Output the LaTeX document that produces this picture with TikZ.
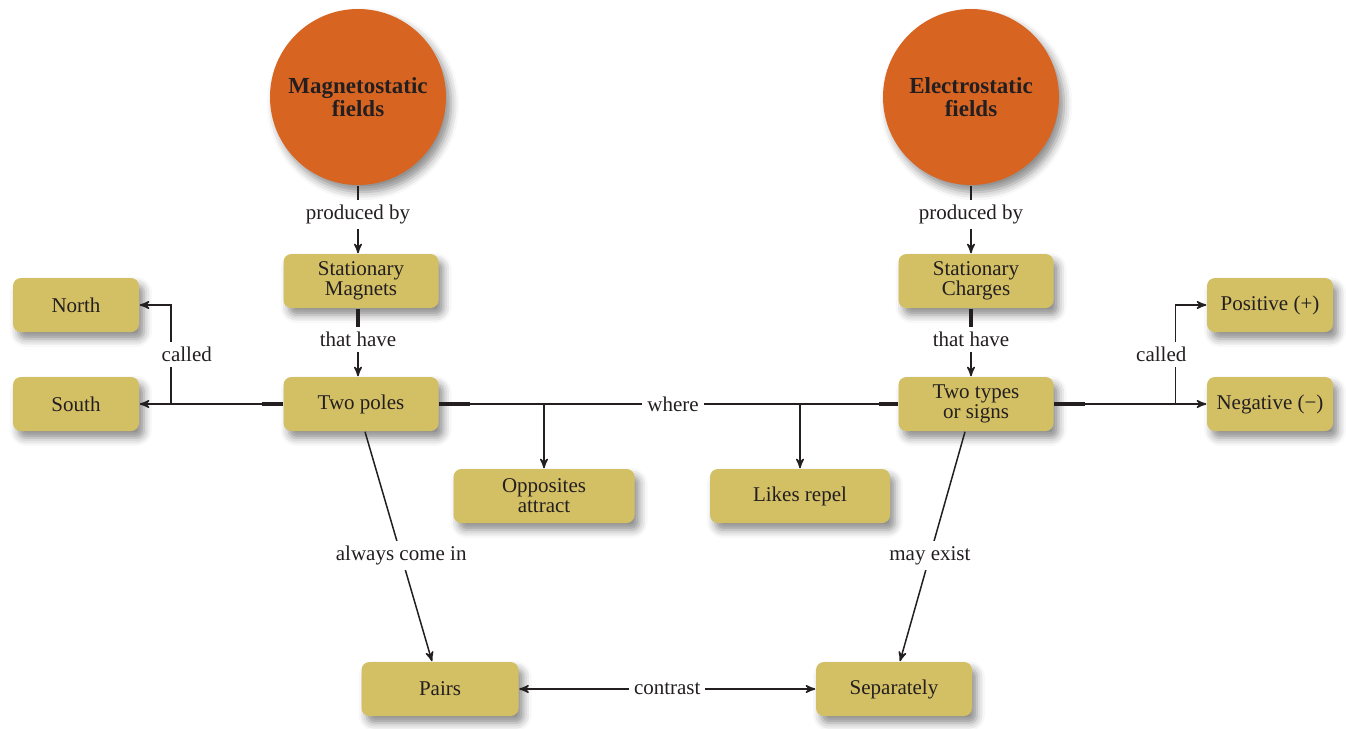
\documentclass[tikz,border=0pt]{standalone}
\usepackage{fontspec}
\setmainfont{Liberation Serif}
\usepackage{color}
\definecolor{myorange}{RGB}{216,100,34}
\definecolor{mygold}{RGB}{211,191,100}
\definecolor{myink}{RGB}{35,31,32}
\usepackage{tikz}
\usetikzlibrary{arrows,shadows.blur,positioning,calc}

\begin{document}
\begin{tikzpicture}[
  x=0.5pt, y=-0.5pt,
  color=myink,
  line width=0.75pt,
  >=stealth',
  field/.style={
    circle,
    fill=myorange,
    minimum size=88pt,
    inner sep=0pt,
    align=center,
    font=\fontsize{11.5}{11.5}\selectfont\bfseries,
    blur shadow={shadow xshift=2.5pt, shadow yshift=-3.5pt, shadow blur radius=4pt, shadow opacity=45}
    },
  concept/.style={
    rectangle,
    rounded corners=4pt,
    fill=mygold,
    minimum width=77.5pt,
    minimum height=27pt,
    inner sep=2pt,
    align=center,
    font=\fontsize{10.5}{10}\selectfont,
    blur shadow={shadow xshift=2.5pt, shadow yshift=-3.5pt, shadow blur radius=4pt, shadow opacity=45}
    },
  linklabel/.style={
    fill=white,
    inner sep=2.5pt,
    font=\fontsize{10.5}{12}\selectfont
    },
  stub/.style={line width=1.6pt}
]
\useasboundingbox (0,0) rectangle (1346,729);

% the two kinds of field
\node [field] (magfield) at (358,97) {Magnetostatic\\fields};
\node [field] (elecfield) at (971,97) {Electrostatic\\fields};

% sources and their poles / charges
\node [concept] (magnets) at (361,281) {Stationary\\Magnets};
\node [concept] (charges) at (976,281) {Stationary\\Charges};
\node [concept] (poles) at (361,404) {Two poles};
\node [concept] (types) at (976,404) {Two types\\or signs};

\node [concept, minimum width=63pt] (north) at (76,305) {North};
\node [concept, minimum width=63pt] (south) at (76,404) {South};
\node [concept, minimum width=63pt] (positive) at (1270,305) {Positive (+)};
\node [concept, minimum width=63pt] (negative) at (1270,404) {Negative (−)};

\node [concept, minimum width=90.5pt] (opposites) at (544,496) {Opposites\\attract};
\node [concept, minimum width=90pt] (likes) at (800,496) {Likes repel};

\node [concept, minimum width=78.5pt] (pairs) at (440,689) {Pairs};
\node [concept, minimum width=78pt] (separately) at (894,689) {Separately};

% field -> source -> poles
\draw [->] (magfield.south) -- node [linklabel, pos=0.42] {produced by} (magfield.south |- magnets.north);
\draw [->] (elecfield.south) -- node [linklabel, pos=0.42] {produced by} (elecfield.south |- charges.north);
\draw [stub] (magfield.south |- magnets.south) -- ++(0,18);
\draw [stub] (elecfield.south |- charges.south) -- ++(0,18);
\draw [->] (magfield.south |- magnets.south) -- node [linklabel, pos=0.46] {that have} (magfield.south |- poles.north);
\draw [->] (elecfield.south |- charges.south) -- node [linklabel, pos=0.46] {that have} (elecfield.south |- types.north);

% names of the poles
\coordinate (lcall) at ([xshift=15.5pt]south.east);
\draw [stub] (poles.west) -- ++(-21,0);
\draw (poles.west) -- (lcall);
\draw [->] (lcall) -- (south.east);
\draw [->] (lcall) |- node [linklabel, pos=0.25, xshift=8pt] {called} (north.east);

% names of the charges
\coordinate (rcall) at ([xshift=-15.5pt]negative.west);
\draw [stub] (types.east) -- ++(31,0);
\draw (types.east) -- (rcall);
\draw [->] (rcall) -- (negative.west);
\draw [->] (rcall) |- node [linklabel, pos=0.25, xshift=-7pt] {called} (positive.west);

% where
\draw [stub] (poles.east) -- ++(31,0);
\draw [stub] (types.west) -- ++(-19,0);
\draw (poles.east) -- node [linklabel, pos=0.51] {where} (types.west);
\draw [->] (opposites.north |- poles.east) -- (opposites.north);
\draw [->] (likes.north |- types.west) -- (likes.north);

% pairs or separately
\draw [->] ([xshift=2pt]poles.south) -- node [linklabel, pos=0.54] {always come in} ([xshift=-4pt]pairs.north);
\draw [->] ([xshift=-5.5pt]types.south) -- node [linklabel, pos=0.54] {may exist} ([xshift=3pt]separately.north);
\draw [<->] (pairs.east) -- node [linklabel] {contrast} (separately.west);

\end{tikzpicture}
\end{document}
